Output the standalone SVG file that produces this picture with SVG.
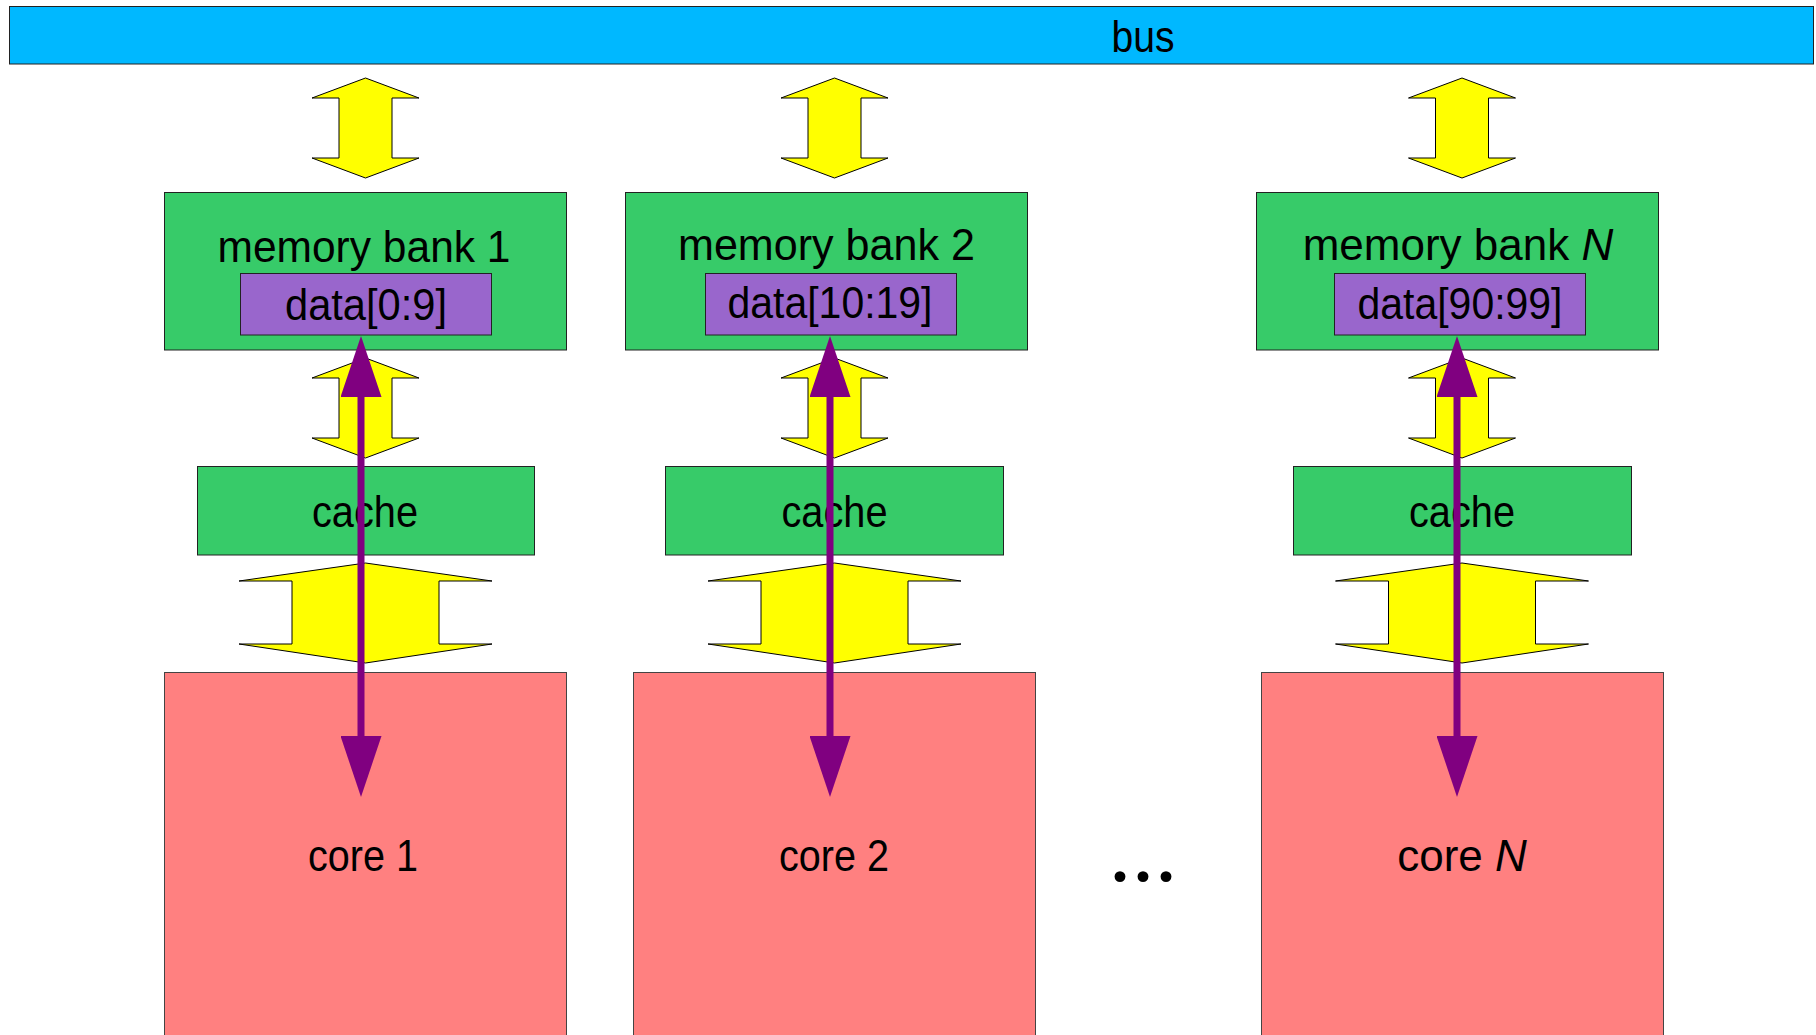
<svg xmlns="http://www.w3.org/2000/svg" width="1816" height="1035" viewBox="0 0 1816 1035">
  <defs>
    <style>
      .lbl { font-family: "Liberation Sans", Arial, sans-serif; font-size: 44px; fill: #000; text-anchor: middle; }
      .bus { fill: #00b8ff; stroke: #222; stroke-width: 1; }
      .bank { fill: #37cb69; stroke: #222; stroke-width: 1; }
      .data { fill: #9966cc; stroke: #222; stroke-width: 1; }
      .core { fill: #ff8080; stroke: #444; stroke-width: 1; }
      .link { fill: #ffff00; stroke: #000; stroke-width: 1; stroke-linejoin: miter; }
      .access { stroke: #800080; stroke-width: 7; fill: none; marker-start: url(#head); marker-end: url(#head); }
      .dots { font-family: "Liberation Serif", "Times New Roman", serif; font-size: 92px; fill: #000; text-anchor: middle; }
    </style>
    <marker id="head" markerUnits="userSpaceOnUse" markerWidth="61" markerHeight="41" refX="0" refY="20.5" orient="auto-start-reverse">
      <path d="M0,0 L61,20.5 L0,41 Z" fill="#800080"/>
    </marker>
    <!-- narrow double-headed bus link, centred on x=0, spanning 100px -->
    <polygon id="narrow" class="link" points="0,0 53.5,20 26.5,20 26.5,80 53.5,80 0,100 -53.5,80 -26.5,80 -26.5,20 -53.5,20"/>
    <!-- wide double-headed cache/core link -->
    <polygon id="wide" class="link" points="0,0 126.5,18 73.5,18 73.5,81 126.5,81 0,100 -126.5,81 -73.5,81 -73.5,18 -126.5,18"/>
  </defs>

  <rect width="1816" height="1035" fill="#fff"/>

  <!-- bus -->
  <g id="bus">
    <rect class="bus" x="9.5" y="6.5" width="1804" height="57.5"/>
    <text class="lbl" x="1143" y="52" textLength="63" lengthAdjust="spacingAndGlyphs">bus</text>
  </g>

  <!-- cores -->
  <g id="core1">
    <rect class="core" x="164.5" y="672.5" width="402" height="380"/>
    <text class="lbl" x="363" y="871" textLength="110" lengthAdjust="spacingAndGlyphs">core 1</text>
  </g>
  <g id="core2">
    <rect class="core" x="633.5" y="672.5" width="402" height="380"/>
    <text class="lbl" x="834" y="871" textLength="110" lengthAdjust="spacingAndGlyphs">core 2</text>
  </g>
  <g id="coreN">
    <rect class="core" x="1261.5" y="672.5" width="402" height="380"/>
    <text class="lbl" x="1462" y="871" font-size="40">core <tspan font-style="italic">N</tspan></text>
  </g>

  <!-- memory banks -->
  <g id="bank1">
    <rect class="bank" x="164.5" y="192.5" width="402" height="157.5"/>
    <text class="lbl" x="364" y="262" textLength="293" lengthAdjust="spacingAndGlyphs">memory bank 1</text>
    <g id="data1">
      <rect class="data" x="240.5" y="273.5" width="251" height="61.5"/>
      <text class="lbl" x="366" y="320" textLength="162" lengthAdjust="spacingAndGlyphs">data[0:9]</text>
    </g>
  </g>
  <g id="bank2">
    <rect class="bank" x="625.5" y="192.5" width="402" height="157.5"/>
    <text class="lbl" x="826.5" y="260" textLength="297" lengthAdjust="spacingAndGlyphs">memory bank 2</text>
    <g id="data2">
      <rect class="data" x="705.5" y="273.5" width="251" height="61.5"/>
      <text class="lbl" x="830" y="318" textLength="205" lengthAdjust="spacingAndGlyphs">data[10:19]</text>
    </g>
  </g>
  <g id="bankN">
    <rect class="bank" x="1256.5" y="192.5" width="402" height="157.5"/>
    <text class="lbl" x="1458" y="260" font-size="43">memory bank <tspan font-style="italic">N</tspan></text>
    <g id="dataN">
      <rect class="data" x="1334.5" y="273.5" width="251" height="61.5"/>
      <text class="lbl" x="1460" y="319" textLength="205" lengthAdjust="spacingAndGlyphs">data[90:99]</text>
    </g>
  </g>

  <!-- caches -->
  <g id="cache1">
    <rect class="bank" x="197.5" y="466.5" width="337" height="88.5"/>
    <text class="lbl" x="365" y="527" textLength="106" lengthAdjust="spacingAndGlyphs">cache</text>
  </g>
  <g id="cache2">
    <rect class="bank" x="665.5" y="466.5" width="338" height="88.5"/>
    <text class="lbl" x="834.5" y="527" textLength="106" lengthAdjust="spacingAndGlyphs">cache</text>
  </g>
  <g id="cacheN">
    <rect class="bank" x="1293.5" y="466.5" width="338" height="88.5"/>
    <text class="lbl" x="1462" y="527" textLength="106" lengthAdjust="spacingAndGlyphs">cache</text>
  </g>

  <!-- ellipsis between core 2 and core N -->
  <g id="ellipsis">
    <text class="dots" x="1143" y="881">...</text>
  </g>

  <!-- connectors -->
  <g id="connectors">
    <!-- bus <-> memory bank -->
    <use href="#narrow" x="365.5" y="78"/>
    <use href="#narrow" x="834.5" y="78"/>
    <use href="#narrow" x="1462" y="78"/>
    <!-- memory bank <-> cache -->
    <use href="#narrow" x="365.5" y="358"/>
    <use href="#narrow" x="834.5" y="358"/>
    <use href="#narrow" x="1462" y="358"/>
    <!-- cache <-> core -->
    <use href="#wide" x="365.5" y="563"/>
    <use href="#wide" x="834.5" y="563"/>
    <use href="#wide" x="1462" y="563"/>
    <!-- core <-> data access -->
    <line class="access" x1="361" y1="397" x2="361" y2="736"/>
    <line class="access" x1="830" y1="397" x2="830" y2="736"/>
    <line class="access" x1="1457" y1="397" x2="1457" y2="736"/>
  </g>
</svg>
